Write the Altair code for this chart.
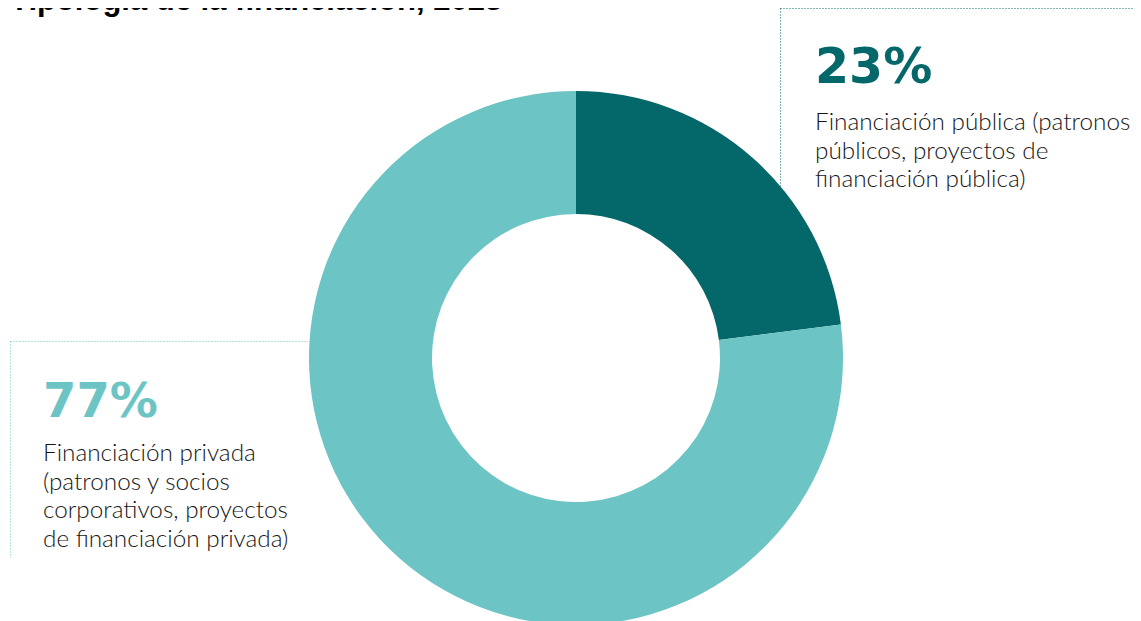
import altair as alt
import pandas as pd

# ---- data ----
categories = ["Financiación pública", "Financiación privada"]
shares = [23, 77]
pct_labels = ["23%", "77%"]
desc_public = ["Financiación pública (patronos", "públicos, proyectos de", "financiación pública)"]
desc_private = ["Financiación privada", "(patronos y socios", "corporativos, proyectos", "de financiación privada)"]
title_text = "Tipología de la financiación, 2023"

DARK = "#04676A"
LIGHT = "#6DC4C5"
TEXT = "#161616"

W, H = 1125, 613
CX, CY = 568, 350

df = pd.DataFrame({"cat": categories, "share": shares, "order": [0, 1]})
one = pd.DataFrame({"k": [0]})

arc = alt.Chart(df).mark_arc(innerRadius=144, outerRadius=267).encode(
    theta=alt.Theta("share:Q", stack=True),
    order=alt.Order("order:Q"),
    color=alt.Color("cat:N", scale=alt.Scale(domain=categories, range=[DARK, LIGHT]), legend=None),
    x=alt.value(CX),
    y=alt.value(CY),
)

def rule(x, x2, y, y2, color):
    return alt.Chart(one).mark_rule(color=color, strokeWidth=1, strokeDash=[1, 2]).encode(
        x=alt.value(x), x2=alt.value(x2), y=alt.value(y), y2=alt.value(y2)
    )

rules = [
    rule(772.5, W, 0.5, 0.5, DARK),
    rule(772.5, 772.5, 0.5, 300, DARK),
    rule(2.5, 300, 333.5, 333.5, LIGHT),
    rule(2.5, 2.5, 333.5, 550, LIGHT),
]

def text(value, x, y, size, weight, color, font, line_height=None):
    kw = dict(align="left", baseline="alphabetic", fontSize=size, fontWeight=weight,
              color=color, font=font)
    if line_height is not None:
        kw["lineHeight"] = line_height
    return alt.Chart(one).mark_text(**kw).encode(
        x=alt.value(x), y=alt.value(y), text=alt.value(value)
    )

texts = [
    text(title_text, 2, 1.5, 31, "bold", "#000000", "Liberation Sans"),
    text(pct_labels[0], 807, 75, 49, "bold", DARK, "DejaVu Sans"),
    text(desc_public, 807, 122, 24.3, 300, TEXT, "Lato", 28.5),
    text(pct_labels[1], 35, 409, 48, "bold", LIGHT, "DejaVu Sans"),
    text(desc_private, 35, 453, 24.3, 300, TEXT, "Lato", 28.5),
]

chart = alt.layer(*rules, arc, *texts).properties(
    width=W, height=H, padding=0, autosize=alt.AutoSizeParams(type="none")
).configure_view(stroke=None)

chart.save("out.html", embed_options={"renderer": "svg", "actions": False})
